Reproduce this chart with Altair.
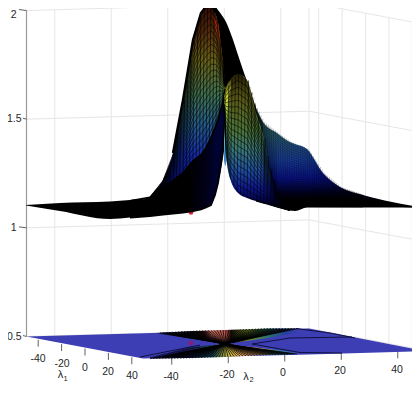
import altair as alt
import numpy as np
import pandas as pd

# ---- axis values ----
z_ticks = [0.5, 1, 1.5, 2]
z_labels = ["0.5", "1", "1.5", "2"]
lam_ticks = [-40, -20, 0, 20, 40]

# projection of the plot box (orthographic view)
def px(l1, l2):
    return 26.5 + 1.17 * (l1 + 50) + 2.825 * (l2 + 50)
def py(l1, l2, z):
    return 336.5 + 0.22 * (l1 + 50) - 0.08 * (l2 + 50) - 217.3 * (z - 0.5)

# ---- surface silhouettes (projected position, screen height) ----
fold_x = [130, 150, 163, 173, 183, 193, 201, 206, 211, 215, 218, 223, 225.5]
fold_y = [201, 197.5, 189, 181, 173, 161, 155, 148, 138, 128, 120, 103, 89]
wedge_left = dict(x=[26, 60, 110, 130, 140], t=[205, 203, 201.5, 200, 199.5], b=[205.5, 211, 219, 217.5, 217])
lobe_back = dict(x=fold_x,
                 t=[200, 197, 180, 153, 100, 40, 13, 6.5, 4, 12, 23, 63, 88],
                 b=fold_y)
front_ridge = dict(x=fold_x, t=fold_y,
                   b=[217.5, 216, 214.5, 213.5, 212.5, 211, 209.5, 207.5, 205, 195, 183, 152, 110])
back_dark = dict(x=[211, 215, 218, 223, 226, 232, 238, 243, 248, 252],
                 t=[4, 6, 10, 17, 22, 37, 55, 70, 84, 95],
                 b=[5, 13, 23, 63, 90, 80, 75, 76, 84, 96])
lobe_front = dict(x=[224, 226, 230, 238, 247, 256, 263, 267, 277, 290],
                  t=[100, 88, 80, 74, 80, 113, 135, 157, 193, 210],
                  b=[112, 155, 178, 193, 198, 201, 203, 204, 207, 210.5])
flank = dict(x=[247, 256, 263, 277, 290, 295, 307, 323, 340, 363, 392, 425],
             t=[82, 108, 122, 133, 142, 144, 149, 173, 187, 195, 202, 208],
             b=[90, 125, 150, 200, 210.5, 211, 207.5, 207.5, 207.5, 207.5, 207.5, 208])
strip_red = dict(x=[213, 216, 219, 222, 224, 225.5], t=[14, 20, 27, 50, 70, 87], b=[16, 30, 50, 78, 96, 92])
strip_yel = dict(x=[224, 225.5, 227, 228.5, 231], t=[98, 91, 86, 83, 80], b=[160, 166, 125, 100, 88])

# ---- floor ----
star_up = dict(x=[157, 193, 225, 268, 300], t=[333, 331, 330, 328.5, 328.5], b=[333.5, 339, 344, 338, 332])
star_down = dict(x=[150, 190, 225, 260, 300], t=[357.5, 347, 344, 348, 353], b=[358.5, 358, 357, 355, 354])

alt_x = alt.Scale(domain=[8, 412], nice=False, zero=False)
alt_y = alt.Scale(domain=[385, 8], nice=False, zero=False)
X = alt.X("x:Q", scale=alt_x, axis=None)
Y = alt.Y("y:Q", scale=alt_y, axis=None)
Y2 = alt.Y2("y2:Q")


def grad_v(reg, stops):
    lo, hi = min(reg["t"]), max(reg["b"])
    return alt.LinearGradient(gradient="linear", x1=0, x2=0, y1=0, y2=1,
                              stops=[alt.GradientStop(offset=float(np.clip((a - lo) / (hi - lo), 0, 1)), color=c) for a, c in stops])


def grad_h(stops):
    return alt.LinearGradient(gradient="linear", x1=0, x2=1, y1=0, y2=0,
                              stops=[alt.GradientStop(offset=a, color=c) for a, c in stops])


def area(reg, color, interp="monotone", clip=True):
    df = pd.DataFrame({"x": reg["x"], "y": reg["t"], "y2": reg["b"]})
    return alt.Chart(df).mark_area(color=color, interpolate=interp, clip=clip, line=False).encode(x=X, y=Y, y2=Y2)


def seglines(rows, color, width, opacity=1.0, clip=True):
    df = pd.DataFrame(rows, columns=["id", "o", "x", "y"])
    return alt.Chart(df).mark_line(color=color, strokeWidth=width, opacity=opacity, clip=clip).encode(
        x=X, y=Y, detail="id:N", order="o:Q")


def mesh(reg, dx, dt, width, opacity, x0=None, x1=None):
    xs = np.arange(x0 if x0 else reg["x"][0], x1 if x1 else reg["x"][-1], 0.5)
    tt = np.interp(xs, reg["x"], reg["t"])
    bb = np.interp(xs, reg["x"], reg["b"])
    rows = []
    for k, t in enumerate(np.arange(dt, 1, dt)):
        for i, (a, u, v) in enumerate(zip(xs, tt, bb)):
            rows.append((f"h{k}", i, a, u + t * (v - u)))
    for k, a in enumerate(np.arange(xs[0], xs[-1], dx)):
        u, v = np.interp(a, reg["x"], reg["t"]), np.interp(a, reg["x"], reg["b"])
        rows.append((f"v{k}", 0, a + 1.5, u))
        rows.append((f"v{k}", 1, a, v))
    return seglines(rows, "#000000", width, opacity)


# grid on the back walls
walls = []
for i, z in enumerate(z_ticks):
    walls += [(f"z{i}", 0, px(-50, -50), py(-50, -50, z)), (f"z{i}", 1, px(-50, 50), py(-50, 50, z)), (f"z{i}", 2, px(50, 50), py(50, 50, z))]
for t in lam_ticks + [50]:
    walls += [(f"a{t}", 0, px(-50, t), py(-50, t, 0.5)), (f"a{t}", 1, px(-50, t), py(-50, t, 2))]
for t in lam_ticks:
    walls += [(f"b{t}", 0, px(t, 50) - 2, py(t, 50, 0.5)), (f"b{t}", 1, px(t, 50) - 2, py(t, 50, 2))]
grid = seglines(walls, "#e6e6e6", 1)

z_axis = seglines([("z", 0, 26.5, py(-50, -50, 2)), ("z", 1, 26.5, py(-50, -50, 0.5))], "#9a9a9a", 1.2)
ticks = []
for z in z_ticks:
    short = 23 if z in (0.5, 1.5) else 19
    ticks += [(f"z{z}", 0, short, py(-50, -50, z) - 1), (f"z{z}", 1, 26.5, py(-50, -50, z))]
for t in lam_ticks:
    ticks += [(f"l{t}", 0, px(t, -50), py(t, -50, 0.5) + 1), (f"l{t}", 1, px(t, -50), py(t, -50, 0.5) + 8)]
    ticks += [(f"m{t}", 0, px(50, t), py(50, t, 0.5)), (f"m{t}", 1, px(50, t), py(50, t, 0.5) + 7)]
tick_marks = seglines(ticks, "#606060", 1)

floor_reg = dict(x=[26.5, 143, 309, 425], t=[336.5, 333.2, 328.5, 351], b=[336.5, 358.5, 354.5, 351])
floor = area(floor_reg, "#3d3db4", interp="linear")

# floor contour lines
cx, cy = 225, 344
rows = []
for i, a in enumerate(np.arange(160, 300, 3.0)):
    top = np.interp(a, star_up["x"], star_up["t"])
    rows += [(f"u{i}", 0, cx, cy), (f"u{i}", 1, a, top)]
for i, a in enumerate(np.arange(150, 300, 3.0)):
    bot = np.interp(a, star_down["x"], star_down["b"])
    rows += [(f"d{i}", 0, cx, cy), (f"d{i}", 1, a, bot)]
fan = seglines(rows, "#000000", 0.9, 0.85)
contours = seglines([
    ("c1", 0, 252, 344), ("c1", 1, 290, 338), ("c1", 2, 352, 337),
    ("c2", 0, 252, 344), ("c2", 1, 300, 352.5), ("c2", 2, 342, 353),
    ("c3", 0, 296, 328.5), ("c3", 1, 330, 333), ("c3", 2, 355, 338),
    ("c5", 0, 200, 345), ("c5", 1, 170, 351), ("c5", 2, 140, 357),
    ("c6", 0, 200, 347), ("c6", 1, 165, 354), ("c6", 2, 150, 358),
], "#101040", 1)

up_grad = grad_h([(0, "#23235c"), (0.25, "#0a0a14"), (0.33, "#301010"), (0.38, "#c2675c"), (0.48, "#b8544c"), (0.52, "#1a0d08"),
                  (0.64, "#6f8a2e"), (0.78, "#2b6f70"), (0.9, "#25409a"), (1, "#3d3db4")])
dn_grad = grad_h([(0, "#2c2c9a"), (0.22, "#15154f"), (0.42, "#12404f"), (0.52, "#c8bb42"), (0.62, "#f0a860"), (0.72, "#e8b060"),
                  (0.85, "#3aa090"), (1, "#3d3db4")])

points = pd.DataFrame({"x": [191, 191], "y": [212.5, 343], "c": ["#d8263a", "#8e1a72"]})
pts = alt.Chart(points).mark_circle(size=22, opacity=1).encode(x=X, y=Y, color=alt.Color("c:N", scale=None))

# surface fills
wedge = area(wedge_left, "#000000")
back_grad = grad_v(lobe_back, [(4, "#2c0a04"), (30, "#50280c"), (60, "#686018"), (95, "#3f7050"), (125, "#235a88"), (155, "#142aa4"), (178, "#0a1488"), (192, "#030420"), (198, "#000000")])
lobe_a = area(lobe_back, back_grad)
ridge_grad = grad_h([(0, "#000000"), (0.6, "#000000"), (0.8, "#01021c"), (0.9, "#03073c"), (0.97, "#040a50"), (1, "#0a2a90")])
ridge = area(front_ridge, ridge_grad)
ridge_edge = seglines([("g", i, a, b) for i, (a, b) in enumerate(zip(front_ridge["x"], front_ridge["b"]))], "#000000", 1.8)
fold_line = seglines([("h", i, a, b) for i, (a, b) in enumerate(zip(fold_x, fold_y))], "#000000", 2.0)
dark = area(back_dark, "#000000")
front_grad = grad_v(lobe_front, [(74, "#241e04"), (100, "#5c5c18"), (130, "#4c7438"), (150, "#3a7878"), (170, "#2050a0"), (188, "#0e1890"), (200, "#040450"), (210, "#000000")])
lobe_c = area(lobe_front, front_grad)
flank_grad = grad_v(flank, [(80, "#0c140c"), (110, "#2a4c44"), (135, "#2a5c70"), (160, "#1a40a0"), (178, "#0a1490"), (192, "#02032a"), (200, "#000000"), (211, "#000000")])
flank_area = area(flank, flank_grad)
red_grad = grad_v(strip_red, [(14, "#801808"), (25, "#d8300c"), (50, "#e88a20"), (72, "#d8d030"), (95, "#70b048")])
strip1 = area(strip_red, red_grad)
yel_grad = grad_v(strip_yel, [(80, "#4c4a10"), (97, "#d0d838"), (118, "#80c058"), (140, "#58c8d8"), (166, "#2a60c0")])
strip2 = area(strip_yel, yel_grad)

edge_top = seglines([("e", i, a, b) for i, (a, b) in enumerate(zip(lobe_back["x"][3:10], lobe_back["t"][3:10]))], "#000000", 2.4)
edge_base = seglines([("f", i, a, b) for i, (a, b) in enumerate(zip(lobe_front["x"][5:], lobe_front["b"][5:]))], "#000000", 1.2)

# labels
lab_z = pd.DataFrame({"x": [21.5 if len(s) > 1 else 16.5 for s in z_labels], "y": [max(py(-50, -50, z), 14.5) for z in z_ticks], "s": z_labels})
t_z = alt.Chart(lab_z).mark_text(align="right", baseline="middle", fontSize=10.5, font="Liberation Sans", color="#262626").encode(x=X, y=Y, text="s:N")
lab_l = pd.DataFrame({"x": [38, 62, 85, 108, 132], "y": [359, 363.5, 367.5, 372, 376], "s": [str(t) for t in lam_ticks]})
lab_m = pd.DataFrame({"x": [171, 227, 283, 340, 397], "y": [377, 375, 373, 371, 370], "s": [str(t) for t in lam_ticks]})
t_l = alt.Chart(pd.concat([lab_l, lab_m])).mark_text(align="center", baseline="middle", fontSize=10.5, font="Liberation Sans", color="#262626").encode(x=X, y=Y, text="s:N")
names = pd.DataFrame({"x": [60.5, 246], "y": [375, 377], "s": ["λ", "λ"]})
subs = pd.DataFrame({"x": [65.5, 251.5], "y": [378.5, 380], "s": ["1", "2"]})
t_n = alt.Chart(names).mark_text(align="center", baseline="middle", fontSize=11, font="Liberation Sans", color="#262626").encode(x=X, y=Y, text="s:N")
t_s = alt.Chart(subs).mark_text(align="center", baseline="middle", fontSize=7.5, font="Liberation Sans", color="#262626").encode(x=X, y=Y, text="s:N")

chart = alt.layer(
    grid, z_axis, tick_marks,
    floor, area(star_up, up_grad, interp="linear"), area(star_down, dn_grad, interp="linear"), fan, contours,
    pts,
    wedge, lobe_a, strip1, mesh(lobe_back, 3.3, 0.05, 1.0, 0.62, x0=150),
    ridge, mesh(front_ridge, 2.5, 0.05, 0.6, 0.25, x0=150), ridge_edge, fold_line,
    flank_area, mesh(flank, 1.8, 0.035, 0.7, 0.4, x0=247, x1=363),
    dark, lobe_c, strip2, mesh(lobe_front, 3.3, 0.055, 1.0, 0.62),
    edge_top, edge_base,
    t_z, t_l, t_n, t_s,
).properties(width=404, height=377, padding=0, autosize=alt.AutoSizeParams(type="none"), background="#ffffff").configure_view(stroke=None)

chart.save("out.html", embed_options={"renderer": "svg", "actions": False})
